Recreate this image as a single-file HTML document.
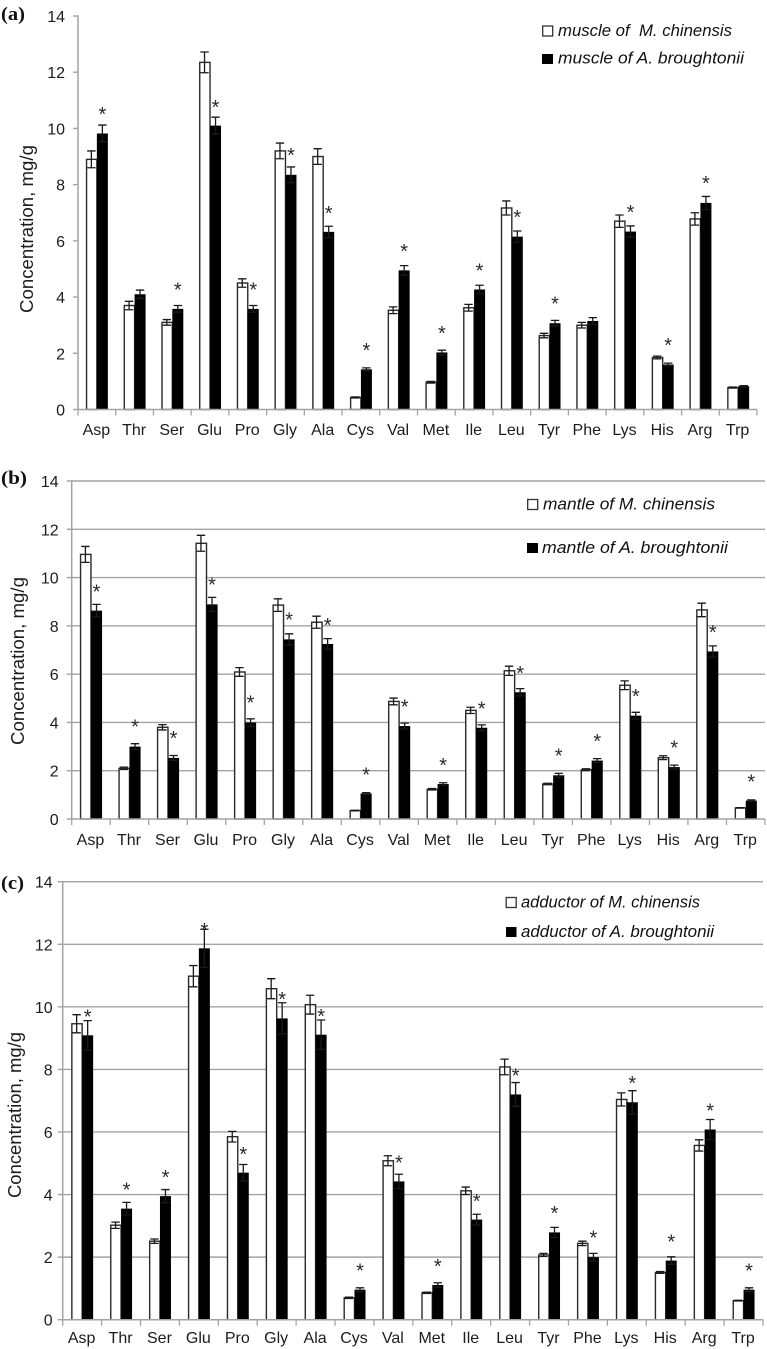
<!DOCTYPE html>
<html lang="en">
<head>
<meta charset="utf-8">
<title>Amino acid concentration charts</title>
<style>
html,body{margin:0;padding:0;background:#fff;}
svg{display:block;}
text{font-family:"Liberation Sans",sans-serif;fill:#1c1c1c;}
.panel-label{font-family:"Liberation Serif",serif;font-weight:bold;font-size:19px;fill:#111;}
.legend-text{font-style:italic;font-size:17px;fill:#111;}
.axis-title{font-size:18px;}
</style>
</head>
<body>
<svg id="figure" width="767" height="1349" viewBox="0 0 767 1349" xmlns="http://www.w3.org/2000/svg">
  <rect x="0" y="0" width="767" height="1349" fill="#fff"/>

  <g id="panel-a"></g>
  <g id="panel-b"></g>
  <g id="panel-c"></g>

  <text class="panel-label" x="1" y="20" textLength="24" lengthAdjust="spacingAndGlyphs">(a)</text>
  <text class="panel-label" x="1" y="484" textLength="26" lengthAdjust="spacingAndGlyphs">(b)</text>
  <text class="panel-label" x="1" y="889" textLength="23" lengthAdjust="spacingAndGlyphs">(c)</text>

  <text class="axis-title" transform="translate(33,229) rotate(-90)" text-anchor="middle" textLength="168" lengthAdjust="spacingAndGlyphs">Concentration, mg/g</text>
  <text class="axis-title" transform="translate(24,661) rotate(-90)" text-anchor="middle" textLength="168" lengthAdjust="spacingAndGlyphs">Concentration, mg/g</text>
  <text class="axis-title" transform="translate(21,1115) rotate(-90)" text-anchor="middle" textLength="166" lengthAdjust="spacingAndGlyphs">Concentration, mg/g</text>

  <g>
    <rect x="542.7" y="26" width="10" height="10" fill="#fff" stroke="#333" stroke-width="1.3"/>
    <text class="legend-text" x="558" y="36" textLength="174" lengthAdjust="spacingAndGlyphs" xml:space="preserve">muscle of  M. chinensis</text>
    <rect x="542" y="54" width="11" height="10" fill="#000"/>
    <text class="legend-text" x="558" y="63.5" textLength="186" lengthAdjust="spacingAndGlyphs">muscle of A. broughtonii</text>
  </g>
  <g>
    <rect x="527.7" y="499.5" width="10" height="10" fill="#fff" stroke="#333" stroke-width="1.3"/>
    <text class="legend-text" x="543" y="509.5" textLength="172" lengthAdjust="spacingAndGlyphs">mantle of M. chinensis</text>
    <rect x="527" y="543" width="11" height="10" fill="#000"/>
    <text class="legend-text" x="542" y="553" textLength="186" lengthAdjust="spacingAndGlyphs">mantle of A. broughtonii</text>
  </g>
  <g>
    <rect x="506.2" y="897.5" width="10" height="10" fill="#fff" stroke="#333" stroke-width="1.3"/>
    <text class="legend-text" x="521" y="907.5" textLength="179" lengthAdjust="spacingAndGlyphs">adductor of M. chinensis</text>
    <rect x="506" y="927" width="10.5" height="10" fill="#000"/>
    <text class="legend-text" x="521" y="937" textLength="193" lengthAdjust="spacingAndGlyphs">adductor of A. broughtonii</text>
  </g>
</svg>

<script>
const categories = ["Asp","Thr","Ser","Glu","Pro","Gly","Ala","Cys","Val","Met","Ile","Leu","Tyr","Phe","Lys","His","Arg","Trp"];
const yTickValues = [0,2,4,6,8,10,12,14];

const muscleChinensis = [8.9,3.7,3.1,12.35,4.5,9.2,9.0,0.43,3.53,0.97,3.62,7.17,2.63,3.0,6.7,1.85,6.78,0.78];
const muscleChinensisErr = [0.3,0.15,0.1,0.37,0.15,0.28,0.28,0.02,0.12,0.03,0.12,0.25,0.08,0.1,0.22,0.05,0.22,0.02];
const muscleBroughtonii = [9.82,4.1,3.58,10.1,3.58,8.35,6.32,1.43,4.95,2.03,4.27,6.15,3.07,3.15,6.33,1.6,7.35,0.83];
const muscleBroughtoniiErr = [0.3,0.15,0.12,0.3,0.12,0.28,0.2,0.05,0.17,0.08,0.15,0.2,0.1,0.12,0.2,0.05,0.23,0.02];
const muscleStarLevels = [10.62,null,4.37,10.87,4.37,9.16,7.1,2.23,5.75,2.83,5.05,6.95,3.87,null,7.13,2.41,8.16,null];

const mantleChinensis = [10.96,2.1,3.8,11.42,6.09,8.86,8.15,0.35,4.87,1.23,4.5,6.14,1.45,2.04,5.54,2.54,8.66,0.46];
const mantleChinensisErr = [0.33,0.05,0.11,0.33,0.18,0.26,0.25,0.01,0.14,0.03,0.13,0.19,0.03,0.04,0.18,0.08,0.28,0.01];
const mantleBroughtonii = [8.63,3.0,2.53,8.89,4.0,7.44,7.25,1.06,3.85,1.45,3.78,5.25,1.81,2.42,4.28,2.15,6.94,0.76];
const mantleBroughtoniiErr = [0.26,0.12,0.1,0.29,0.15,0.23,0.22,0.03,0.12,0.05,0.12,0.15,0.08,0.08,0.14,0.08,0.23,0.03];
const mantleStarLevels = [9.55,3.95,3.47,9.83,4.94,8.38,8.17,1.97,4.79,2.37,4.71,6.17,2.75,3.35,5.22,3.08,7.88,1.68];

const adductorChinensis = [9.46,3.02,2.51,10.98,5.85,10.58,10.07,0.7,5.08,0.86,4.12,8.08,2.07,2.44,7.04,1.51,5.57,0.61];
const adductorChinensisErr = [0.29,0.1,0.07,0.34,0.17,0.32,0.3,0.02,0.16,0.02,0.12,0.25,0.05,0.07,0.21,0.03,0.18,0.01];
const adductorBroughtonii = [9.09,3.55,3.95,11.87,4.7,9.63,9.11,0.96,4.42,1.11,3.2,7.2,2.79,2.0,6.95,1.89,6.08,0.96];
const adductorBroughtoniiErr = [0.47,0.2,0.21,0.61,0.26,0.5,0.47,0.06,0.23,0.07,0.17,0.38,0.16,0.12,0.37,0.12,0.32,0.06];
const adductorStarLevels = [9.79,4.25,4.66,12.56,5.4,10.35,9.81,1.67,5.12,1.81,3.89,7.9,3.51,2.72,7.66,2.59,6.79,1.67];

const SVG_NS = "http://www.w3.org/2000/svg";
const AXIS_COLOR = "#a3a3a3";

function make(tag, attrs, parent) {
  const node = document.createElementNS(SVG_NS, tag);
  for (const key in attrs) node.setAttribute(key, attrs[key]);
  parent.appendChild(node);
  return node;
}

function drawPanel(cfg) {
  const root = document.getElementById(cfg.id);
  const maxValue = yTickValues[yTickValues.length - 1];
  const yScale = v => cfg.y0 - (v / maxValue) * (cfg.y0 - cfg.yTop);
  const step = (cfg.xRight - cfg.xLeft) / categories.length;
  const xScale = i => cfg.xLeft + step * (i + 0.5);
  const capHalf = 4.2;

  yTickValues.forEach(v => {
    const y = yScale(v);
    if (cfg.grid && v > 0) {
      const grid = make("line", {x1: cfg.xLeft, x2: cfg.xRight, y1: y, y2: y, stroke: AXIS_COLOR, "stroke-width": 1.4}, root);
      
      
    }
    const tick = make("line", {x1: cfg.xLeft - 5, x2: cfg.xLeft, y1: y, y2: y, stroke: AXIS_COLOR, "stroke-width": 1.4}, root);
    
    
    const label = make("text", {x: cfg.xLeft - cfg.tickGap, y: y + 6, "text-anchor": "end", "font-size": 16}, root);
    
    
    label.textContent = v;
  });

  const yAxis = make("line", {x1: cfg.xLeft, x2: cfg.xLeft, y1: yScale(maxValue) - 0.7, y2: cfg.y0, stroke: AXIS_COLOR, "stroke-width": 1.5}, root);
  
  

  for (let i = 0; i <= categories.length; i++) {
    const x = cfg.xLeft + step * i;
    const tick = make("line", {x1: x, x2: x, y1: cfg.y0, y2: cfg.y0 + 6, stroke: AXIS_COLOR, "stroke-width": 1.3}, root);
    
    
  }

  categories.forEach((cat, i) => {
    const cx = xScale(i);
    const topA = yScale(cfg.seriesA[i]);
    const topB = yScale(cfg.seriesB[i]);

    const whiteBar = make("rect", {x: cx - cfg.barW + 0.7, y: topA, width: cfg.barW - 0.7, height: cfg.y0 - topA, fill: "#fff", stroke: "#2a2a2a", "stroke-width": 1.4}, root);
    
    

    const blackBar = make("rect", {x: cx, y: topB, width: cfg.barW, height: cfg.y0 - topB, fill: "#000"}, root);
    
    

    [[cx - cfg.barW / 2, cfg.seriesA[i], cfg.errA[i], 'm-chinensis'], [cx + cfg.barW / 2, cfg.seriesB[i], cfg.errB[i], 'a-broughtonii']].forEach(item => {
      const ex = item[0], val = item[1], err = item[2];
      const yHi = yScale(val + err), yLo = yScale(val - err);
      const path = "M" + ex + " " + yHi + "V" + yLo +
        "M" + (ex - capHalf) + " " + yHi + "H" + (ex + capHalf) +
        "M" + (ex - capHalf) + " " + yLo + "H" + (ex + capHalf);
      const errorBar = make("path", {d: path, stroke: "#1a1a1a", "stroke-width": 1.3, fill: "none"}, root);
      
      
    });

    if (cfg.stars[i] !== null) {
      const star = make("text", {x: cx + cfg.barW / 2, y: yScale(cfg.stars[i]) + 10, "text-anchor": "middle", "font-size": 20, style: "fill:#2a2a2a"}, root);
      
      
      star.textContent = "*";
    }

    const catLabel = make("text", {x: cx - 0.5, y: cfg.labelY, "text-anchor": "middle", "font-size": 16}, root);
    
    
    catLabel.textContent = cat;
  });

  const xAxis = make("line", {x1: cfg.xLeft, x2: cfg.xRight, y1: cfg.y0, y2: cfg.y0, stroke: AXIS_COLOR, "stroke-width": 1.5}, root);
  
  
}

drawPanel({id: "panel-a", xLeft: 78, xRight: 757, y0: 409.5, yTop: 16, barW: 11, tickGap: 13, labelY: 435, grid: false,
  seriesA: muscleChinensis, errA: muscleChinensisErr, seriesB: muscleBroughtonii, errB: muscleBroughtoniiErr, stars: muscleStarLevels});
drawPanel({id: "panel-b", xLeft: 71.7, xRight: 765, y0: 819, yTop: 481, barW: 11.1, tickGap: 13, labelY: 845, grid: true,
  seriesA: mantleChinensis, errA: mantleChinensisErr, seriesB: mantleBroughtonii, errB: mantleBroughtoniiErr, stars: mantleStarLevels});
drawPanel({id: "panel-c", xLeft: 62.7, xRight: 763, y0: 1319.7, yTop: 881.7, barW: 11, tickGap: 10, labelY: 1343, grid: true,
  seriesA: adductorChinensis, errA: adductorChinensisErr, seriesB: adductorBroughtonii, errB: adductorBroughtoniiErr, stars: adductorStarLevels});
</script>
</body>
</html>
